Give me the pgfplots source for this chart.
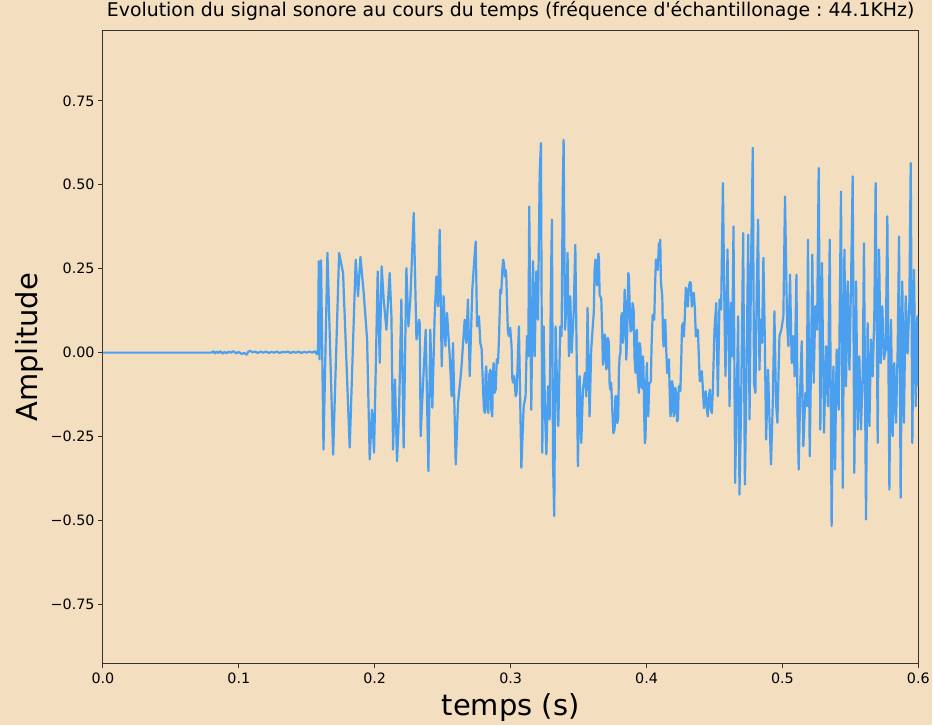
\documentclass[border=0pt]{standalone}
\usepackage{pgfplots}
\pgfplotsset{compat=1.18}
\usepackage{fontspec}
\setmainfont{DejaVu Sans}
\usetikzlibrary{backgrounds}
\definecolor{bgc}{HTML}{F3DEC0}
\definecolor{linec}{HTML}{4A9FEF}
\frenchspacing
\begin{document}
\begin{tikzpicture}
\begin{axis}[
  scale only axis,
  width=816bp, height=633bp,
  xmin=0, xmax=0.6, ymin=-0.926, ymax=0.958,
  axis background/.style={fill=bgc},
  axis line style={black!80, line width=1bp},
  tick style={black!80, line width=1bp},
  major tick length=4.9bp,
  tick align=outside,
  xtick pos=bottom, ytick pos=left,
  xtick={0,0.1,0.2,0.3,0.4,0.5,0.6},
  xticklabels={0.0,0.1,0.2,0.3,0.4,0.5,0.6},
  ytick={-0.75,-0.5,-0.25,0,0.25,0.5,0.75},
  yticklabels={−0.75,−0.50,−0.25,0.00,0.25,0.50,0.75},
  ticklabel style={font=\fontsize{14.3bp}{16bp}\selectfont},
  xticklabel style={yshift=-1bp},
  title={Evolution du signal sonore au cours du temps (fréquence d\textquotesingle échantillonage : 44.1KHz)},
  title style={at={(axis description cs:0.5,1)}, anchor=base, yshift=8.3bp, inner sep=0pt, font=\fontsize{18.9bp}{21bp}\selectfont},
  xlabel={temps (s)},
  xlabel style={at={(axis description cs:0.5,-0.0695)}, anchor=center, font=\fontsize{29bp}{34bp}\selectfont},
  ylabel={Amplitude},
  ylabel style={at={(axis description cs:-0.0895,0.5)}, anchor=center, font=\fontsize{29bp}{34bp}\selectfont},
]
\coordinate (bl) at (rel axis cs:0,0);
\coordinate (tr) at (rel axis cs:1,1);
\addplot[linec, line width=2.2bp, line join=round] coordinates {
(0,0) (0.0800,0) (0.0812,0.004) (0.0825,-0.002) (0.0838,0.003) (0.0850,-0.001)
(0.0865,0.004) (0.0880,-0.003) (0.0895,0.002) (0.0910,-0.002) (0.0925,0.003)
(0.0940,0.000) (0.0960,0.004) (0.0980,-0.002) (0.1000,0.002) (0.1020,-0.004)
(0.1040,-0.001) (0.1057,-0.006) (0.1070,0.003) (0.1085,0.005) (0.1100,0.001)
(0.1120,0.003) (0.1140,-0.001) (0.1160,0.003) (0.1180,0.000) (0.1200,0.003)
(0.1220,-0.001) (0.1240,0.002) (0.1260,0.000) (0.1280,0.003) (0.1300,-0.001)
(0.1320,0.002) (0.1340,0.001) (0.1360,0.003) (0.1380,-0.001) (0.1400,0.002)
(0.1420,0.000) (0.1440,0.003) (0.1460,-0.001) (0.1480,0.002) (0.1500,0.000)
(0.1520,0.003) (0.1540,0.000) (0.1560,0.004) (0.1575,-0.005) (0.1583,0.010)
(0.1588,0.272) (0.1594,-0.02) (0.1601,0.255) (0.1605,0.275) (0.1623,-0.289)
(0.1652,0.297) (0.1694,-0.304) (0.1738,0.297) (0.1767,0.237) (0.1816,-0.283)
(0.1860,0.277) (0.1877,0.168) (0.1895,0.285) (0.1919,0.178) (0.1944,0.039)
(0.1963,-0.318) (0.1980,-0.170) (0.1995,-0.298) (0.2022,0.242) (0.2037,-0.030)
(0.2051,0.257) (0.2066,0.158) (0.2086,0.068) (0.2110,0.237) (0.2123,0.108)
(0.2135,-0.289) (0.2149,-0.080) (0.2164,-0.323) (0.2179,-0.180) (0.2196,0.158)
(0.2213,-0.283) (0.2233,0.252) (0.2248,0.078) (0.2262,0.158) (0.2287,0.416)
(0.2307,0.039) (0.2326,0.098)
(0.2331,0.088) (0.2338,-0.249) (0.2356,-0.089) (0.2375,0.068) (0.2395,-0.353)
(0.2409,0.068) (0.2424,-0.164) (0.2441,0.108) (0.2454,0.227) (0.2466,0.138)
(0.2478,0.366) (0.2493,-0.041) (0.2507,0.168) (0.2520,0.019) (0.2532,0.118)
(0.2552,-0.011) (0.2566,-0.130) (0.2576,0.029) (0.2596,-0.333) (0.2613,-0.150)
(0.2637,-0.051) (0.2662,0.098) (0.2674,0.029) (0.2686,0.158) (0.2699,-0.070)
(0.2718,0.1875) (0.2731,0.267) (0.2743,0.331) (0.2753,0.078) (0.2767,0.108)
(0.2777,0.029) (0.2787,0.010) (0.2797,-0.110) (0.2804,-0.170) (0.2811,-0.180)
(0.2816,-0.060) (0.2821,-0.041) (0.2828,-0.160) (0.2836,-0.180) (0.2843,-0.065)
(0.2851,-0.051) (0.2858,-0.170) (0.2865,-0.190) (0.2870,-0.060) (0.2875,-0.031)
(0.2882,-0.120) (0.2890,-0.110) (0.2898,-0.020) (0.2907,-0.031) (0.2915,0.048)
(0.2924,0.1875) (0.2931,0.177) (0.2939,0.247) (0.2945,0.277) (0.2951,0.267)
(0.2957,0.227) (0.2963,0.247) (0.2968,0.230) (0.2973,0.158) (0.2980,0.060)
(0.2988,0.049) (0.2997,0.074) (0.3007,0.019) (0.3012,-0.075) (0.3017,-0.089)
(0.3027,-0.070) (0.3037,-0.130) (0.3044,-0.120) (0.3052,-0.031)
(0.3061,0.078) (0.3079,-0.343) (0.3096,-0.160) (0.3110,-0.130) (0.3120,0.049)
(0.3130,-0.011) (0.3137,0.435)
(0.3152,-0.170) (0.3165,0.272) (0.3177,-0.011) (0.3189,0.242) (0.3201,0.098)
(0.3214,0.535) (0.3223,0.624) (0.3233,-0.298) (0.3243,0.078) (0.3253,-0.180)
(0.3263,-0.303) (0.3275,-0.100) (0.3287,-0.199) (0.3297,0.227) (0.3304,0.396)
(0.3312,-0.328) (0.3321,-0.487) (0.3331,0.078) (0.3341,-0.090) (0.3351,-0.219)
(0.3365,0.078) (0.3375,0.049) (0.3383,0.465) (0.3390,0.634) (0.3400,0.068)
(0.3410,0.128) (0.3419,0.297) (0.3429,-0.011) (0.3439,0.168) (0.3449,0.000)
(0.3464,0.118) (0.3476,0.321) (0.3486,-0.011) (0.3495,-0.338) (0.3508,-0.070)
(0.3520,-0.269) (0.3532,-0.110) (0.3547,-0.060) (0.3557,-0.130) (0.3566,0.133)
(0.3581,-0.190) (0.3593,0.009) (0.3606,0.088) (0.3612,0.118) (0.3618,0.247)
(0.3624,0.277) (0.3630,0.227) (0.3636,0.200) (0.3642,0.272) (0.3646,0.295)
(0.3650,0.277) (0.3655,0.170) (0.3660,0.168) (0.3667,0.160) (0.3674,0.059)
(0.3679,-0.036) (0.3684,-0.031) (0.3692,0.054) (0.3699,0.039) (0.3704,-0.050)
(0.3709,-0.041) (0.3716,0.044) (0.3723,0.029) (0.3728,-0.090) (0.3733,-0.110)
(0.3740,-0.090) (0.3748,-0.170) (0.3756,-0.240) (0.3765,-0.229) (0.3771,-0.130)
(0.3777,-0.130) (0.3785,-0.210) (0.3792,-0.190) (0.3797,-0.050) (0.3802,-0.011)
(0.3808,0.000) (0.3814,0.108) (0.3820,0.118) (0.3826,0.029) (0.3832,0.058)
(0.3839,0.1875) (0.3845,0.133) (0.3851,-0.021) (0.3858,0.058) (0.3866,0.237)
(0.3870,0.228) (0.3875,0.158) (0.3882,0.063) (0.3890,0.068) (0.3897,0.148)
(0.3905,0.128) (0.3912,-0.016) (0.3919,-0.060) (0.3924,0.054) (0.3929,0.068)
(0.3936,-0.076) (0.3944,-0.120) (0.3946,0.000)
(0.3949,0.029) (0.3955,0.015) (0.3961,-0.100) (0.3967,-0.106) (0.3974,-0.011)
(0.3978,-0.050) (0.3983,-0.190) (0.3988,-0.270) (0.3993,-0.249) (0.3998,-0.090)
(0.4003,-0.031) (0.4008,-0.160) (0.4013,-0.190) (0.4020,-0.090) (0.4027,-0.090)
(0.4032,-0.085) (0.4037,0.019) (0.4045,0.113) (0.4052,0.108) (0.4057,0.098)
(0.4062,0.1875) (0.4069,0.277) (0.4076,0.267) (0.4083,0.246) (0.4091,0.326)
(0.4096,0.300) (0.4101,0.336) (0.4106,0.210) (0.4111,0.1875) (0.4116,0.168)
(0.4121,0.049) (0.4126,0.018) (0.4130,0.088) (0.4138,0.098) (0.4145,0.009)
(0.4152,-0.061) (0.4160,-0.031) (0.4165,-0.020) (0.4170,-0.110) (0.4176,-0.190)
(0.4182,-0.170) (0.4188,-0.085) (0.4194,-0.100) (0.4200,-0.190) (0.4206,-0.180)
(0.4212,-0.105) (0.4219,-0.130) (0.4225,-0.205) (0.4231,-0.199) (0.4237,-0.100)
(0.4243,-0.100) (0.4249,-0.115) (0.4255,-0.031) (0.4261,0.078) (0.4268,0.088)
(0.4275,0.048) (0.4282,0.108) (0.4289,0.193) (0.4297,0.178) (0.4304,0.137)
(0.4312,0.197) (0.4319,0.210) (0.4326,0.207) (0.4333,0.137) (0.4341,0.168)
(0.4348,0.178) (0.4356,0.128) (0.4363,0.048) (0.4371,0.068) (0.4378,0.068)
(0.4385,-0.011) (0.4392,-0.085) (0.4400,-0.080) (0.4407,-0.055) (0.4415,-0.110)
(0.4422,-0.165) (0.4429,-0.140) (0.4436,-0.115) (0.4444,-0.170) (0.4451,-0.190)
(0.4459,-0.130) (0.4466,-0.110) (0.4474,-0.170) (0.4481,-0.180) (0.4488,-0.110)
(0.4500,0.068) (0.4513,0.148)
(0.4525,-0.130) (0.4537,0.158) (0.4549,0.128) (0.4562,0.505) (0.4574,0.108)
(0.4581,-0.070) (0.4596,0.307) (0.4611,-0.160) (0.4621,0.148) (0.4630,-0.011)
(0.4640,0.376) (0.4652,-0.388) (0.4665,-0.110) (0.4674,0.108) (0.4684,-0.423)
(0.4697,-0.130) (0.4711,0.356) (0.4724,-0.393) (0.4736,-0.060) (0.4748,0.351)
(0.4758,-0.199)
(0.4769,0.257) (0.4782,0.610) (0.4791,-0.090) (0.4801,-0.120) (0.4811,0.1875)
(0.4821,0.396) (0.4831,-0.051) (0.4840,0.098) (0.4850,0.029) (0.4860,0.282)
(0.4870,0.049) (0.4880,-0.259) (0.4894,-0.051) (0.4904,-0.190) (0.4916,-0.333)
(0.4929,-0.150) (0.4941,0.123) (0.4953,-0.150) (0.4963,-0.209) (0.4978,0.049)
(0.4992,0.068) (0.5007,0.108) (0.5019,0.465) (0.5034,0.088) (0.5044,0.019)
(0.5056,0.232) (0.5068,-0.031) (0.5081,0.049) (0.5090,-0.071) (0.5103,0.232)
(0.5112,-0.209) (0.5120,-0.348) (0.5132,-0.090) (0.5142,0.034) (0.5154,-0.279)
(0.5169,-0.120) (0.5179,-0.160) (0.5188,0.336) (0.5201,-0.309) (0.5213,0.049)
(0.5220,0.292) (0.5230,-0.090) (0.5242,0.138) (0.5255,0.068) (0.5267,0.550)
(0.5279,-0.229) (0.5291,0.267) (0.5306,-0.239) (0.5321,0.019) (0.5335,-0.160)
(0.5348,0.336) (0.5362,-0.517) (0.5375,-0.041) (0.5387,-0.348) (0.5399,0.009)
(0.5414,-0.170)
(0.5431,0.480) (0.5444,-0.403) (0.5456,0.307) (0.5468,-0.100) (0.5480,0.212)
(0.5493,-0.051) (0.5505,0.212) (0.5517,0.525) (0.5529,-0.358) (0.5542,0.212)
(0.5554,-0.229) (0.5566,-0.011) (0.5578,-0.229) (0.5591,-0.060) (0.5600,0.326)
(0.5615,-0.497) (0.5627,0.088) (0.5640,-0.219) (0.5652,0.039) (0.5664,-0.071)
(0.5676,0.108) (0.5686,0.505) (0.5701,-0.269) (0.5711,0.307) (0.5723,-0.031)
(0.5735,0.138) (0.5747,-0.020) (0.5760,0.009) (0.5772,0.406) (0.5787,-0.408)
(0.5799,0.098) (0.5811,-0.249) (0.5823,-0.031) (0.5836,-0.209) (0.5848,0.009)
(0.5858,0.346) (0.5870,-0.432) (0.5882,0.212) (0.5894,-0.209) (0.5907,0.168)
(0.5921,-0.003) (0.5934,0.148) (0.5944,0.565) (0.5956,-0.269) (0.5968,0.247)
(0.5981,-0.160) (0.5993,0.108) (0.6000,-0.100)
};
\end{axis}
\begin{scope}[on background layer]
\fill[bgc] ([shift={(-103bp,-62bp)}]bl) rectangle ([shift={(14bp,31bp)}]tr);
\end{scope}
\end{tikzpicture}
\end{document}
